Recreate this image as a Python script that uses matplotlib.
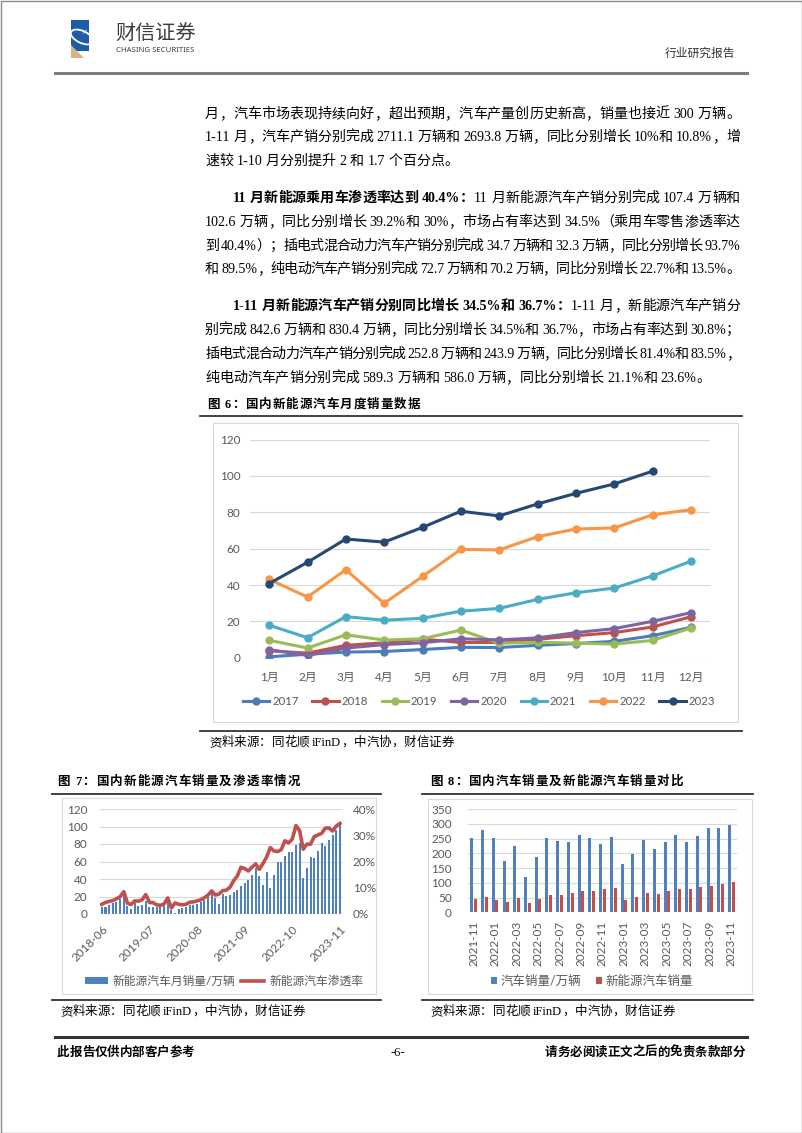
import numpy as np
import pandas as pd
import matplotlib
matplotlib.use('Agg')
import matplotlib.pyplot as plt
from matplotlib.font_manager import FontProperties
from matplotlib.patches import Rectangle, Polygon, Ellipse
from matplotlib.ticker import PercentFormatter

W, H = 802, 1133

# ---------------- 图6 国内新能源汽车月度销量 (万辆) ----------------
months = [f'{i}月' for i in range(1, 13)]
years = ['2017', '2018', '2019', '2020', '2021', '2022', '2023']
nev_2017 = [0.5, 1.9, 3.1, 3.4, 4.5, 5.7, 5.6, 6.8, 7.8, 9.0, 12.1, 16.7]
nev_2018 = [3.8, 2.5, 6.8, 8.2, 10.2, 8.4, 8.4, 10.1, 12.1, 13.8, 16.9, 22.5]
nev_2019 = [9.6, 5.3, 12.6, 9.7, 10.4, 15.2, 8.0, 8.5, 8.0, 7.5, 9.5, 16.3]
nev_2020 = [4.4, 1.3, 5.3, 7.2, 8.2, 10.4, 9.8, 10.9, 13.8, 16.0, 20.0, 24.8]
nev_2021 = [17.9, 11.0, 22.6, 20.6, 21.7, 25.6, 27.1, 32.1, 35.7, 38.3, 45.0, 53.1]
nev_2022 = [43.1, 33.4, 48.4, 29.9, 44.7, 59.6, 59.3, 66.6, 70.8, 71.4, 78.6, 81.4]
nev_2023 = [40.8, 52.5, 65.3, 63.6, 71.7, 80.6, 78.0, 84.6, 90.4, 95.6, 102.6]
year_colors = ['#4A7EBB', '#C0504D', '#9BBB59', '#8064A2', '#4BACC6', '#F79646', '#254874']

# ---------------- 图7 新能源汽车销量及渗透率 ----------------
rate_months = list(pd.date_range('2018-06-01', '2023-11-01', freq='MS').strftime('%Y-%m'))
nev_monthly = nev_2018[5:] + nev_2019 + nev_2020 + nev_2021 + nev_2022 + nev_2023
nev_rate = [3.7, 4.4, 4.8, 5.1, 5.8, 6.6, 8.5,
            4.1, 3.6, 5.0, 4.9, 5.4, 7.4, 4.4, 4.3, 3.5, 3.3, 3.8, 6.1,
            2.3, 4.2, 3.7, 3.5, 3.7, 4.5, 4.6, 5.0, 5.4, 6.2, 7.2, 8.8,
            7.2, 7.6, 8.9, 9.1, 10.2, 12.7, 14.5, 17.8, 17.3, 16.4, 17.8, 19.1,
            17.0, 19.2, 21.7, 25.3, 24.0, 23.8, 24.5, 27.9, 27.1, 28.5, 33.7, 31.8,
            24.7, 26.6, 26.6, 29.5, 30.1, 30.7, 32.7, 32.8, 31.6, 33.5, 34.5]
rate_ticks = ['2018-06', '2019-07', '2020-08', '2021-09', '2022-10', '2023-11']

# ---------------- 图8 汽车销量及新能源汽车销量 ----------------
cmp_months = list(pd.date_range('2021-11-01', '2023-11-01', freq='MS').strftime('%Y-%m'))
car_sales = [252.2, 278.6, 253.1, 173.7, 223.4, 118.1, 186.2, 250.2, 242.0, 238.3, 261.0,
             250.5, 232.9, 255.6, 164.9, 197.6, 245.1, 215.9, 238.2, 262.2, 238.7, 258.2,
             285.8, 285.3, 297.0]
nev_cmp = nev_2021[10:] + nev_2022 + nev_2023

BODY = ['Liberation Serif', 'Noto Sans CJK SC']
plt.rcParams['font.family'] = ['Lato', 'Noto Sans CJK SC']
GRAY = '#595959'

fig = plt.figure(figsize=(W / 100, H / 100), dpi=100)
rend = fig.canvas.get_renderer()

pg = fig.add_axes([0, 0, 1, 1])
pg.set_xlim(0, W)
pg.set_ylim(H, 0)
pg.axis('off')


def px_axes(l, t, r, b):
    ax = fig.add_axes([l / W, 1 - b / H, (r - l) / W, (b - t) / H])
    ax.patch.set_alpha(0)
    for s in ax.spines.values():
        s.set_visible(False)
    return ax


_cache = {}


def tw(s, prop):
    key = (s, prop.get_size(), prop.get_weight())
    if key not in _cache:
        _cache[key] = rend.get_text_width_height_descent(s, prop, ismath=False)[0]
    return _cache[key]


def units(text):
    out, buf = [], ''
    for ch in text:
        if ch == ' ' or ord(ch) >= 128:
            if buf:
                out.append(buf)
                buf = ''
            out.append(ch)
        else:
            buf += ch
    if buf:
        out.append(buf)
    return out


def put_line(parts, x0, y, size=10.1, x1=None, family=BODY, color='black'):
    # lay a line out unit by unit, optionally justified to x1
    if isinstance(parts, str):
        parts = [(parts, False)]
    items = []
    for s, bold in parts:
        prop = FontProperties(family=family, size=size, weight='bold' if bold else 'normal')
        ref = tw('中中', prop) - tw('中', prop)
        for u in units(s):
            if u == ' ':
                items.append((None, prop, size * 100 / 72 * 0.25, 0))
            else:
                adv = tw('中' + u + '中', prop) - tw('中中', prop)
                off = tw('中' + u, prop) - tw(u, prop) - ref
                items.append((u, prop, adv, off))
    gap = 0
    if x1 is not None and len(items) > 1:
        gap = (x1 - x0 - sum(i[2] for i in items)) / (len(items) - 1)
    x = x0
    for u, prop, adv, off in items:
        if u is not None:
            pg.text(x + off, y, u, fontproperties=prop, ha='left', va='baseline', color=color)
        x += adv + gap


# ---------------- page frame / header ----------------
pg.add_patch(Rectangle((0.5, 0.5), W - 1, H - 1, fill=False, ec='#8C8C8C', lw=1))
pg.add_patch(Rectangle((71, 20), 18, 31, color='#1E5BA8', lw=0))
pg.add_patch(Polygon([(71, 45), (84, 58), (71, 58)], color='#D9B08C', lw=0))
pg.add_patch(Ellipse((82, 37), 24, 12, angle=25, fill=False, ec='white', lw=1.3))
pg.text(84, 33, '×', color='white', fontsize=7, ha='center', va='center')
pg.text(115, 34, '财信证券', fontsize=14.5, color='#3C3C3C', va='center',
        family='Noto Sans CJK SC')
pg.text(116, 50, 'CHASING SECURITIES', fontsize=5.6, color='#3C3C3C', va='center',
        family='Noto Sans')
pg.text(735, 53, '行业研究报告', fontsize=8.5, color='#333333', ha='right', va='center',
        family='Noto Sans CJK SC')
pg.plot([55, 747], [73, 73], color='#7F7F7F', lw=2.2)

# ---------------- body text ----------------
X0, X1, IND = 205, 740, 233
put_line('月，汽车市场表现持续向好，超出预期，汽车产量创历史新高，销量也接近 300 万辆。', X0, 118, x1=X1)
put_line('1-11 月，汽车产销分别完成 2711.1 万辆和 2693.8 万辆，同比分别增长 10%和 10.8%，增', X0, 141, x1=X1)
put_line('速较 1-10 月分别提升 2 和 1.7 个百分点。', X0, 165)
put_line([('11 月新能源乘用车渗透率达到 40.4%：', True),
          ('11 月新能源汽车产销分别完成 107.4 万辆和', False)], IND, 202, x1=X1)
put_line('102.6 万辆，同比分别增长 39.2%和 30%，市场占有率达到 34.5%（乘用车零售渗透率达', X0, 226, x1=X1)
put_line('到 40.4%）；插电式混合动力汽车产销分别完成 34.7 万辆和 32.3 万辆，同比分别增长 93.7%', X0, 250, x1=X1)
put_line('和 89.5%，纯电动汽车产销分别完成 72.7 万辆和 70.2 万辆，同比分别增长 22.7%和 13.5%。', X0, 273, x1=X1)
put_line([('1-11 月新能源汽车产销分别同比增长 34.5%和 36.7%：', True),
          ('1-11 月，新能源汽车产销分', False)], IND, 310, x1=X1)
put_line('别完成 842.6 万辆和 830.4 万辆，同比分别增长 34.5%和 36.7%，市场占有率达到 30.8%；', X0, 334, x1=X1)
put_line('插电式混合动力汽车产销分别完成 252.8 万辆和 243.9 万辆，同比分别增长 81.4%和 83.5%，', X0, 358, x1=X1)
put_line('纯电动汽车产销分别完成 589.3 万辆和 586.0 万辆，同比分别增长 21.1%和 23.6%。', X0, 382)

# ---------------- 图6 ----------------
put_line([('图 6：国内新能源汽车月度销量数据', True)], 207, 408, size=9, x1=420)
pg.plot([200, 742], [416, 416], color='#333333', lw=1.3)
pg.add_patch(Rectangle((213, 423), 525, 299, fill=False, ec='#D9D9D9', lw=0.8))
ax6 = px_axes(250, 439.6, 710, 657.7)
xm = np.arange(len(months))
handles = []
for yr, vals, c in zip(years, [nev_2017, nev_2018, nev_2019, nev_2020, nev_2021, nev_2022, nev_2023],
                       year_colors):
    ln, = ax6.plot(xm[:len(vals)], vals, color=c, lw=2.2, marker='o', ms=5, label=yr, zorder=3)
    handles.append(ln)
ax6.set_xlim(-0.5, 11.5)
ax6.set_ylim(0, 120)
ax6.set_yticks(range(0, 121, 20))
ax6.set_xticks(xm, months)
ax6.grid(axis='y', color='#D9D9D9', lw=0.8)
ax6.set_axisbelow(True)
ax6.tick_params(length=0, labelsize=8.5, labelcolor=GRAY)
ax6.tick_params(axis='y', pad=7)
ax6.tick_params(axis='x', pad=10)
fig.legend(handles=handles, ncol=7, loc='center', bbox_to_anchor=(479 / W, 1 - 701.7 / H),
           frameon=False, fontsize=8.2, labelcolor=GRAY, handlelength=2.3, handletextpad=0.27,
           columnspacing=1.2)
pg.plot([200, 742], [731, 731], color='#333333', lw=1.3)
put_line('资料来源：同花顺 iFinD，中汽协，财信证券', 209, 746, size=9)

# ---------------- 图7 ----------------
put_line([('图 7：国内新能源汽车销量及渗透率情况', True)], 57, 785, size=9, x1=300)
pg.plot([52, 381], [794, 794], color='#333333', lw=1.3)
pg.add_patch(Rectangle((62, 798), 314, 196, fill=False, ec='#D9D9D9', lw=0.8))
ax7 = px_axes(100, 809, 341.7, 914)
i7 = np.arange(len(nev_monthly))
bars7 = ax7.bar(i7, nev_monthly, width=0.55, color='#4F81BD', label='新能源汽车月销量/万辆')
ax7.set_xlim(-0.5, len(i7) - 0.5)
ax7.set_ylim(0, 120)
ax7.set_yticks(range(0, 121, 20))
ax7.grid(axis='y', color='#D9D9D9', lw=0.8)
ax7.set_axisbelow(True)
ax7.set_xticks([rate_months.index(t) for t in rate_ticks], rate_ticks, rotation=45,
               ha='right', rotation_mode='anchor')
ax7.tick_params(length=0, labelsize=8.5, labelcolor=GRAY)
ax7.tick_params(axis='y', pad=9)
ax7.tick_params(axis='x', pad=7)
ax7r = ax7.twinx()
for s in ax7r.spines.values():
    s.set_visible(False)
line7, = ax7r.plot(i7, np.array(nev_rate) / 100, color='#C0504D', lw=2.6, label='新能源汽车渗透率')
ax7r.set_ylim(0, 0.4)
ax7r.set_yticks(np.arange(0, 0.41, 0.1))
ax7r.yaxis.set_major_formatter(PercentFormatter(1.0, decimals=0))
ax7r.tick_params(length=0, labelsize=8.5, labelcolor=GRAY, pad=8)
fig.legend(handles=[bars7, line7], ncol=2, loc='center', bbox_to_anchor=(224 / W, 1 - 981 / H),
           frameon=False, fontsize=8.5, labelcolor=GRAY, handlelength=1.95, handleheight=0.45,
           handletextpad=0.4, columnspacing=0.5)
pg.plot([52, 381], [1000, 1000], color='#333333', lw=1.3)
put_line('资料来源：同花顺 iFinD，中汽协，财信证券', 60, 1015, size=9)

# ---------------- 图8 ----------------
put_line([('图 8：国内汽车销量及新能源汽车销量对比', True)], 430, 785, size=9, x1=683)
pg.plot([422, 753], [794, 794], color='#333333', lw=1.3)
pg.add_patch(Rectangle((428, 799), 324, 195, fill=False, ec='#D9D9D9', lw=0.8))
ax8 = px_axes(468.3, 809, 736.7, 912.3)
i8 = np.arange(len(cmp_months))
b8a = ax8.bar(i8 - 0.17, car_sales, width=0.28, color='#4F81BD', label='汽车销量/万辆')
b8b = ax8.bar(i8 + 0.17, nev_cmp, width=0.28, color='#C0504D', label='新能源汽车销量')
ax8.set_xlim(-0.5, len(i8) - 0.5)
ax8.set_ylim(0, 350)
ax8.set_yticks(range(0, 351, 50))
ax8.grid(axis='y', color='#D9D9D9', lw=0.8)
ax8.set_axisbelow(True)
ax8.set_xticks(i8[::2], cmp_months[::2], rotation=90)
ax8.tick_params(length=0, labelsize=8.5, labelcolor=GRAY)
ax8.tick_params(axis='y', pad=12)
ax8.tick_params(axis='x', pad=6)
fig.legend(handles=[b8a, b8b], ncol=2, loc='center', bbox_to_anchor=(592 / W, 1 - 981 / H),
           frameon=False, fontsize=9, labelcolor=GRAY, handlelength=0.5, handleheight=0.5,
           handletextpad=0.25, columnspacing=1.2)
pg.plot([422, 753], [1000, 1000], color='#333333', lw=1.3)
put_line('资料来源：同花顺 iFinD，中汽协，财信证券', 430, 1015, size=9)

# ---------------- footer ----------------
pg.plot([55, 747], [1037, 1037], color='#333333', lw=2.2)
put_line([('此报告仅供内部客户参考', True)], 57, 1056, size=9)
pg.text(398, 1056, '-6-', fontsize=9, ha='center', va='baseline', family='Liberation Serif')
put_line([('请务必阅读正文之后的免责条款部分', True)], 545, 1056, size=9, x1=745)

fig.savefig('out.png', dpi=100)
